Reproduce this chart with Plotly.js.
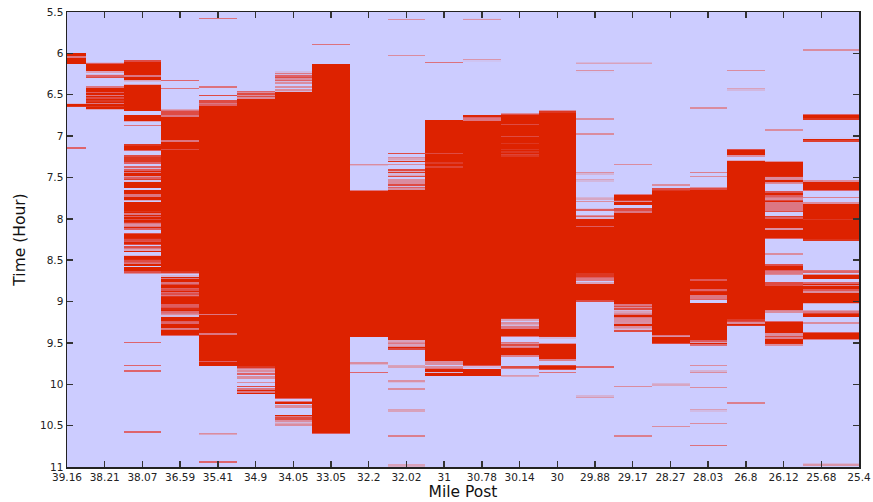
<!DOCTYPE html>
<html>
<head>
<meta charset="utf-8">
<script src="https://cdn.plot.ly/plotly-3.0.1.min.js"></script>
<style>
  html, body { margin: 0; padding: 0; background: #ffffff; }
  #chart { width: 873px; height: 502px; }
</style>
</head>
<body>
<div id="chart"></div>
<script>
// Mile post categories (x axis tick labels)
const milePosts = ['39.16','38.21','38.07','36.59','35.41','34.9','34.05','33.05','32.2','32.02','31',
                   '30.78','30.14','30','29.88','29.17','28.27','28.03','26.8','26.12','25.68','25.4'];

// Congested time intervals [start hour, end hour] for each mile post
const c39_16 = [[6.00,6.035],[6.045,6.13],[6.615,6.645],[7.142,7.150]];
const c38_21 = [[6.115,6.122],[6.13,6.22],[6.265,6.275],[6.29,6.30],[6.41,6.47],[6.478,6.50],[6.51,6.53],
                [6.54,6.57],[6.575,6.60],[6.61,6.64],[6.645,6.67]];
const c38_07 = [[6.09,6.27],[6.28,6.315],[6.33,6.335],[6.38,6.70],[6.75,6.82],[6.868,6.875],[7.105,7.175],
                [7.24,7.25],[7.255,7.27],[7.275,7.29],[7.295,7.31],[7.315,7.325],[7.375,7.385],[7.408,7.44],
                [7.45,7.488],[7.508,7.528],[7.549,7.63],[7.65,7.698],[7.71,7.72],[7.73,7.77],[7.803,7.912],
                [7.92,7.94],[7.95,7.975],[7.985,8.01],[8.02,8.045],[8.06,8.068],[8.08,8.09],[8.10,8.125],
                [8.174,8.246],[8.255,8.265],[8.274,8.30],[8.305,8.315],[8.34,8.35],[8.36,8.37],[8.385,8.40],
                [8.448,8.496],[8.505,8.515],[8.525,8.54],[8.55,8.565],[8.585,8.638],[8.645,8.655],
                [9.485,9.493],[9.775,9.783],[9.835,9.843],[10.575,10.583]];
const c36_59 = [[6.32,6.328],[6.42,6.427],[6.68,6.69],[6.70,6.71],[6.72,6.73],[6.74,6.75],[6.76,7.055],
                [7.065,7.16],[7.17,8.645],[8.655,8.66],[8.698,8.718],[8.724,8.728],[8.732,8.766],[8.775,8.782],
                [8.79,8.839],[8.847,8.852],[8.859,8.891],[8.90,8.905],[8.912,8.92],[8.93,8.935],[8.94,9.04],
                [9.048,9.053],[9.061,9.073],[9.08,9.085],[9.089,9.121],[9.13,9.135],[9.145,9.15],[9.16,9.165],
                [9.182,9.242],[9.25,9.258],[9.27,9.323],[9.335,9.342],[9.351,9.404],[9.406,9.41]];
const c35_41 = [[5.575,5.582],[6.40,6.407],[6.505,6.515],[6.57,6.58],[6.59,6.60],[6.61,6.625],[6.635,9.155],
                [9.165,9.39],[9.40,9.715],[9.725,9.78],[10.595,10.603],[10.935,10.943]];
const c34_9  = [[6.452,6.46],[6.47,6.475],[6.485,6.495],[6.505,6.51],[6.52,6.53],[6.54,6.545],[6.55,9.795],
                [9.80,9.805],[9.815,9.82],[9.835,9.84],[9.865,9.875],[9.905,9.91],[9.925,9.93],[9.97,9.975],
                [10.02,10.03],[10.06,10.09],[10.10,10.115]];
const c34_05 = [[6.232,6.24],[6.265,6.275],[6.285,6.295],[6.305,6.31],[6.325,6.335],[6.35,6.355],[6.405,6.41],
                [6.435,6.44],[6.465,10.17],[10.175,10.18],[10.21,10.23],[10.25,10.255],[10.27,10.275],
                [10.37,10.39],[10.40,10.41],[10.42,10.43],[10.44,10.445],[10.465,10.47],[10.49,10.495]];
const c33_05 = [[5.885,5.892],[6.135,10.585],[10.588,10.595]];
const c32_2  = [[7.345,7.352],[7.655,7.66],[7.665,9.43],[9.745,9.752],[9.852,9.86]];
const c32_02 = [[5.595,5.60],[6.027,6.032],[7.205,7.215],[7.253,7.258],[7.28,7.285],[7.303,7.315],[7.335,7.34],
                [7.40,7.41],[7.43,7.445],[7.465,7.47],[7.49,7.50],[7.525,7.53],[7.545,7.555],[7.57,7.575],
                [7.59,7.60],[7.615,7.625],[7.645,9.47],[9.485,9.49],[9.50,9.505],[9.515,9.52],[9.545,9.577],
                [9.78,9.787],[9.962,9.968],[10.051,10.056],[10.313,10.32],[10.622,10.628],[10.98,10.986]];
const c31    = [[6.10,6.107],[6.80,6.83],[6.835,7.21],[7.218,7.328],[7.334,7.377],[7.383,9.715],[9.725,9.73],
                [9.74,9.745],[9.76,9.765],[9.785,9.79],[9.81,9.85],[9.865,9.90]];
const c30_78 = [[5.583,5.588],[6.079,6.084],[6.752,6.765],[6.775,6.785],[6.795,6.80],[6.81,9.768],
                [9.775,9.785],[9.82,9.90]];
const c30_14 = [[6.72,6.725],[6.735,6.745],[6.75,6.86],[6.868,7.01],[7.018,7.085],[7.09,7.155],[7.16,7.195],
                [7.20,7.222],[7.228,7.24],[7.245,9.21],[9.215,9.22],[9.25,9.255],[9.28,9.285],[9.30,9.305],
                [9.315,9.32],[9.33,9.424],[9.488,9.495],[9.505,9.51],[9.52,9.53],[9.54,9.545],[9.56,9.653],
                [9.66,9.663],[9.79,9.80],[9.805,9.812],[9.896,9.903]];
const c30    = [[6.695,6.70],[6.705,9.424],[9.428,9.435],[9.512,9.706],[9.768,9.775],[9.78,9.827],[9.85,9.857]];
const c29_88 = [[6.115,6.12],[6.212,6.217],[6.793,6.798],[6.97,6.975],[7.445,7.452],[7.53,7.535],[7.748,7.753],
                [7.795,7.80],[7.882,7.892],[7.95,7.955],[7.975,7.985],[8.0,8.085],[8.093,8.655],[8.66,8.67],
                [8.675,8.69],[8.695,8.70],[8.708,8.72],[8.73,8.74],[8.78,8.98],[8.985,8.995],[9.785,9.793],
                [10.148,10.154]];
const c29_17 = [[6.115,6.12],[7.337,7.342],[7.71,7.778],[7.785,7.79],[7.80,7.83],[7.87,7.88],[7.89,7.90],
                [7.91,7.92],[7.93,9.04],[9.055,9.065],[9.075,9.08],[9.09,9.10],[9.115,9.12],[9.135,9.14],
                [9.16,9.19],[9.205,9.21],[9.225,9.23],[9.245,9.25],[9.262,9.30],[9.31,9.315],[9.33,9.335],
                [9.35,9.36],[10.022,10.027],[10.627,10.633]];
const c28_27 = [[7.587,7.592],[7.635,7.645],[7.655,9.402],[9.412,9.418],[9.43,9.51],[9.998,10.003],[10.505,10.51]];
const c28_03 = [[6.652,6.657],[7.434,7.44],[7.495,7.50],[7.627,7.632],[7.64,8.73],[8.737,8.742],[8.746,8.851],
                [8.855,8.862],[8.871,8.92],[8.93,8.94],[8.95,8.955],[8.965,8.975],[9.02,9.472],[9.48,9.487],
                [9.50,9.524],[9.768,9.773],[9.848,9.855],[10.043,10.048],[10.313,10.318],[10.47,10.475],
                [10.743,10.75]];
const c26_8  = [[6.204,6.209],[6.43,6.435],[7.155,7.16],[7.162,7.238],[7.297,9.228],[9.235,9.245],[9.255,9.26],
                [9.27,9.29],[9.295,9.30],[10.218,10.224]];
const c26_12 = [[6.926,6.931],[7.31,7.315],[7.319,7.496],[7.505,7.51],[7.528,7.549],[7.558,7.564],[7.57,7.575],
                [7.674,7.722],[7.73,7.74],[7.75,7.755],[7.77,7.78],[7.785,7.80],[7.81,7.82],[7.83,7.84],
                [7.86,7.87],[7.88,7.885],[7.895,7.91],[7.972,7.984],[7.992,8.117],[8.122,8.126],[8.133,8.242],
                [8.426,8.431],[8.557,8.617],[8.625,8.635],[8.645,8.655],[8.665,8.672],[8.77,8.78],[8.79,8.80],
                [8.807,9.101],[9.105,9.11],[9.12,9.125],[9.242,9.383],[9.39,9.395],[9.405,9.41],[9.42,9.43],
                [9.444,9.513],[9.517,9.522]];
const c25_68 = [[5.954,5.959],[6.742,6.795],[7.033,7.061],[7.545,7.55],[7.553,7.658],[7.735,7.741],[7.808,7.813],
                [7.819,8.004],[8.008,8.011],[8.012,8.262],[8.625,8.632],[8.642,8.65],[8.678,8.73],[8.767,8.775],
                [8.785,8.80],[8.811,8.859],[8.875,8.88],[8.89,8.895],[8.90,9.02],[9.113,9.12],[9.13,9.135],
                [9.141,9.182],[9.26,9.265],[9.375,9.456],[10.965,10.971]];
const c25_4  = c25_68;

const columns = [c39_16,c38_21,c38_07,c36_59,c35_41,c34_9,c34_05,c33_05,c32_2,c32_02,c31,
                 c30_78,c30_14,c30,c29_88,c29_17,c28_27,c28_03,c26_8,c26_12,c25_68,c25_4];

// Build the heatmap table: fraction of each one-minute cell that is congested
const tStart = 5.5, tEnd = 11, step = 1 / 60;
const nRows = Math.round((tEnd - tStart) / step);
const yCenters = [];
const z = [];
for (let r = 0; r < nRows; r++) {
  const lo = tStart + r * step, hi = lo + step;
  yCenters.push(lo + step / 2);
  const row = [];
  for (let c = 0; c < columns.length; c++) {
    let cov = 0;
    for (const iv of columns[c]) {
      const a = Math.max(lo, iv[0]), b = Math.min(hi, iv[1]);
      if (b > a) cov += b - a;
    }
    row.push(Math.min(1, cov / step));
  }
  z.push(row);
}

const trace = {
  type: 'heatmap',
  x: milePosts,
  y: yCenters,
  z: z,
  zmin: 0, zmax: 1,
  zsmooth: false,
  showscale: false,
  hoverinfo: 'skip',
  colorscale: [[0, '#ccccff'], [0.2, '#d8a2bc'], [0.5, '#de6066'], [0.8, '#dd2200'], [1, '#dd2200']]
};

const fam = 'DejaVu Sans, Verdana, sans-serif';
const axisFont = { family: fam, size: 10.5, color: '#222' };

const layout = {
  width: 873, height: 502,
  margin: { l: 67, r: 14, t: 12, b: 35 },
  paper_bgcolor: '#ffffff',
  plot_bgcolor: '#ccccff',
  showlegend: false,
  xaxis: {
    type: 'category',
    range: [0, 21],
    showgrid: false, zeroline: false,
    showline: true, linecolor: '#222', linewidth: 1.5, mirror: 'ticks',
    ticks: 'inside', ticklen: 6, tickcolor: '#333', tickwidth: 1.5,
    tickfont: axisFont,
    tickangle: 0,
    ticklabelstandoff: 1.5,
    title: { text: 'Mile Post', font: { family: fam, size: 15.5, color: '#111' }, standoff: 0 },
    automargin: false
  },
  yaxis: {
    range: [11, 5.5],
    tick0: 5.5, dtick: 0.5,
    showgrid: false, zeroline: false,
    showline: true, linecolor: '#222', linewidth: 1.5, mirror: 'ticks',
    ticks: 'inside', ticklen: 6, tickcolor: '#333', tickwidth: 1.5,
    tickfont: axisFont,
    ticklabelshift: -1.5,
    title: { text: 'Time (Hour)', font: { family: fam, size: 15.5, color: '#111' }, standoff: 10 },
    automargin: false
  }
};

Plotly.newPlot('chart', [trace], layout, { displayModeBar: false, staticPlot: true });
</script>
</body>
</html>
